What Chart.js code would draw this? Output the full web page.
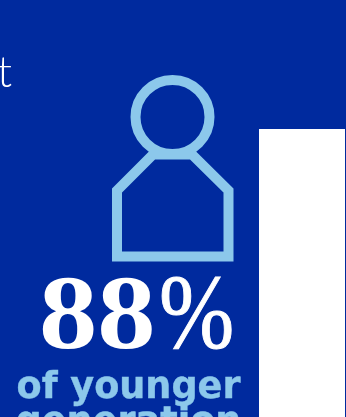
<!DOCTYPE html>
<html lang="en">
<head>
    <meta charset="UTF-8">
    <title>88% of younger generation</title>
    <script src="https://cdn.jsdelivr.net/npm/chart.js"></script>
    <style>
        html, body { margin: 0; padding: 0; background: #002a9e; overflow: hidden; }
        #wrap { position: relative; width: 346px; height: 417px; overflow: hidden; }
        .txt { position: absolute; white-space: nowrap; line-height: 1; }
        #cut { left: -3px; top: 44px; font: 300 44px Lato, sans-serif; color: #fff; }
        /* digits are stretched wider, the percent sign is lighter and narrower */
        #big { left: 39px; top: 252px; font: bold 105px "Liberation Serif", serif; color: #fff; }
        #num { display: inline-block; transform-origin: 0 50%; transform: scaleX(1.11); }
        #pct { position: absolute; left: 120px; top: 0; font-weight: normal; transform-origin: 0 50%; transform: scaleX(0.86);
               -webkit-text-stroke: 1px #fff; }
        .sub { left: 128.5px; transform: translateX(-50%); font: bold 36.6px "DejaVu Sans", sans-serif; color: #8cc8eb;
               -webkit-text-stroke: 0.4px #8cc8eb; }
        #sub1 { top: 364px; }
        #sub2 { top: 399px; }
    </style>
</head>
<body>
    <div id="wrap">
        <canvas id="grafico" width="346" height="417"></canvas>
        <span class="txt" id="cut">t</span>
        <span class="txt" id="big"><span id="num"></span><span id="pct">%</span></span>
        <span class="txt sub" id="sub1"></span>
        <span class="txt sub" id="sub2"></span>
    </div>

    <script>
        const categories = ['younger generation'];
        const shareValues = [88];
        const subLines = ['of younger', 'generation'];

        document.getElementById('num').textContent = shareValues[0];
        document.getElementById('sub1').textContent = subLines[0];
        document.getElementById('sub2').textContent = subLines[1];

        // Person outline above the figure
        const personIcon = {
            id: 'personIcon',
            beforeDraw(chart) {
                const c = chart.ctx;
                c.save();
                c.strokeStyle = '#8cc8eb';
                c.lineWidth = 10;
                c.lineJoin = 'miter';
                c.beginPath();
                c.arc(172.5, 117, 37, 0, Math.PI * 2);
                c.stroke();
                c.beginPath();
                c.moveTo(153, 154.5);
                c.lineTo(117, 190.5);
                c.lineTo(117, 256.5);
                c.lineTo(228.5, 256.5);
                c.lineTo(228.5, 190.5);
                c.lineTo(192, 154.5);
                c.closePath();
                c.stroke();
                c.restore();
            }
        };

        new Chart(document.getElementById('grafico').getContext('2d'), {
            type: 'bar',
            data: {
                labels: categories,
                datasets: [{
                    data: shareValues,
                    backgroundColor: '#ffffff',
                    borderWidth: 0,
                    barPercentage: 1,
                    categoryPercentage: 1
                }]
            },
            options: {
                responsive: false,
                animation: false,
                layout: { padding: { left: 259, right: 1, top: 129, bottom: 0 } },
                plugins: { legend: { display: false }, tooltip: { enabled: false } },
                scales: {
                    x: { display: false },
                    y: { display: false, min: 0, max: 88 }
                }
            },
            plugins: [personIcon]
        });
    </script>
</body>
</html>
